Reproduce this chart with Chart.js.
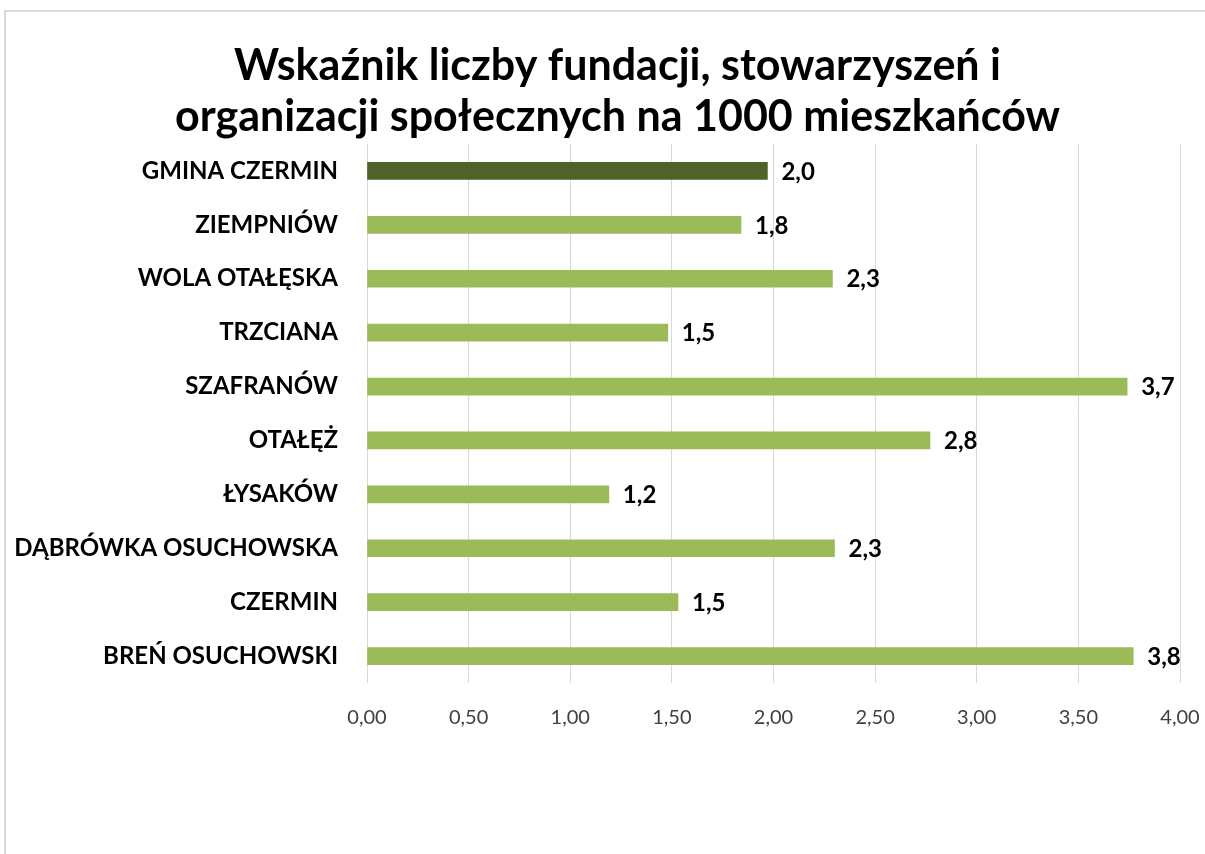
<!DOCTYPE html>
<html lang="pl">
<head>
<meta charset="utf-8">
<title>Wskaźnik liczby fundacji</title>
<script src="https://cdn.jsdelivr.net/npm/chart.js@4.4.1/dist/chart.umd.min.js"></script>
<style>
    html, body { margin: 0; padding: 0; background: #fff; overflow: hidden; }
    #wrap { position: relative; width: 1205px; height: 854px; }
    #frame {
        position: absolute; left: 4px; top: 10px; right: -4px; bottom: -4px;
        border-top: 2px solid #d9d9d9; border-left: 2px solid #d9d9d9;
        pointer-events: none;
    }
    canvas { position: absolute; left: 0; top: 0; }
</style>
</head>
<body>
<div id="wrap">
    <div id="frame"></div>
    <canvas id="chart" width="1205" height="854"></canvas>
</div>
<script>
// values
const CATEGORIES = [
    "GMINA CZERMIN", "ZIEMPNIÓW", "WOLA OTAŁĘSKA", "TRZCIANA", "SZAFRANÓW",
    "OTAŁĘŻ", "ŁYSAKÓW", "DĄBRÓWKA OSUCHOWSKA", "CZERMIN", "BREŃ OSUCHOWSKI"
];
const VALUES = [1.97, 1.84, 2.29, 1.48, 3.74, 2.77, 1.19, 2.30, 1.53, 3.77];
const X_TICKS = [0, 0.5, 1, 1.5, 2, 2.5, 3, 3.5, 4];
const TITLE_LINES = [
    "Wskaźnik liczby fundacji, stowarzyszeń i",
    "organizacji społecznych na 1000 mieszkańców"
];

const FONT = "Lato, 'Open Sans', sans-serif";
const LIGHT = "#9bbb59";
const DARK = "#4f6228";

const fmt = (v, d) => v.toFixed(d).replace(".", ",");

const valueLabels = {
    id: "valueLabels",
    afterDatasetsDraw(chart) {
        const { ctx } = chart;
        const meta = chart.getDatasetMeta(0);
        ctx.save();
        ctx.font = `bold 24px ${FONT}`;
        ctx.fillStyle = "#000";
        ctx.textAlign = "left";
        ctx.textBaseline = "middle";
        meta.data.forEach((bar, i) => {
            ctx.fillText(fmt(VALUES[i], 1), bar.x + 14, bar.y + 1);
        });
        ctx.restore();
    }
};

new Chart(document.getElementById("chart"), {
    type: "bar",
    data: {
        labels: CATEGORIES,
        datasets: [{
            data: VALUES,
            backgroundColor: CATEGORIES.map(c => c === "GMINA CZERMIN" ? DARK : LIGHT),
            barThickness: 17,
        }]
    },
    plugins: [valueLabels],
    options: {
        indexAxis: "y",
        responsive: false,
        animation: false,
        // negative right padding only moves the title's centre to match the reference
        layout: { padding: { left: 12, right: -18, top: 0, bottom: 0 } },
        plugins: {
            legend: { display: false },
            tooltip: { enabled: false },
            title: {
                display: true,
                text: TITLE_LINES,
                color: "#000",
                font: { family: FONT, size: 43, weight: "bold", lineHeight: 51 / 43 },
                padding: { top: 41, bottom: 1 },
            }
        },
        scales: {
            x: {
                min: 0,
                max: 4,
                afterBuildTicks: (scale) => { scale.ticks = X_TICKS.map(v => ({ value: v })); },
                afterFit: (scale) => {
                    scale.height = 171;
                    scale.paddingRight = 25;
                    scale.paddingLeft = 0;
                },
                ticks: {
                    color: "#404040",
                    font: { family: FONT, size: 20 },
                    padding: 23,
                    maxRotation: 0,
                    callback: (v) => fmt(v, 2),
                },
                grid: { color: "#d9d9d9", lineWidth: 1, drawTicks: false },
                border: { display: false },
            },
            y: {
                afterFit: (scale) => { scale.width = 355; },
                ticks: {
                    color: "#000",
                    font: { family: FONT, size: 24, weight: "bold" },
                    padding: 29,
                },
                grid: { display: false, drawTicks: false },
                border: { display: false },
            }
        }
    }
});
</script>
</body>
</html>
